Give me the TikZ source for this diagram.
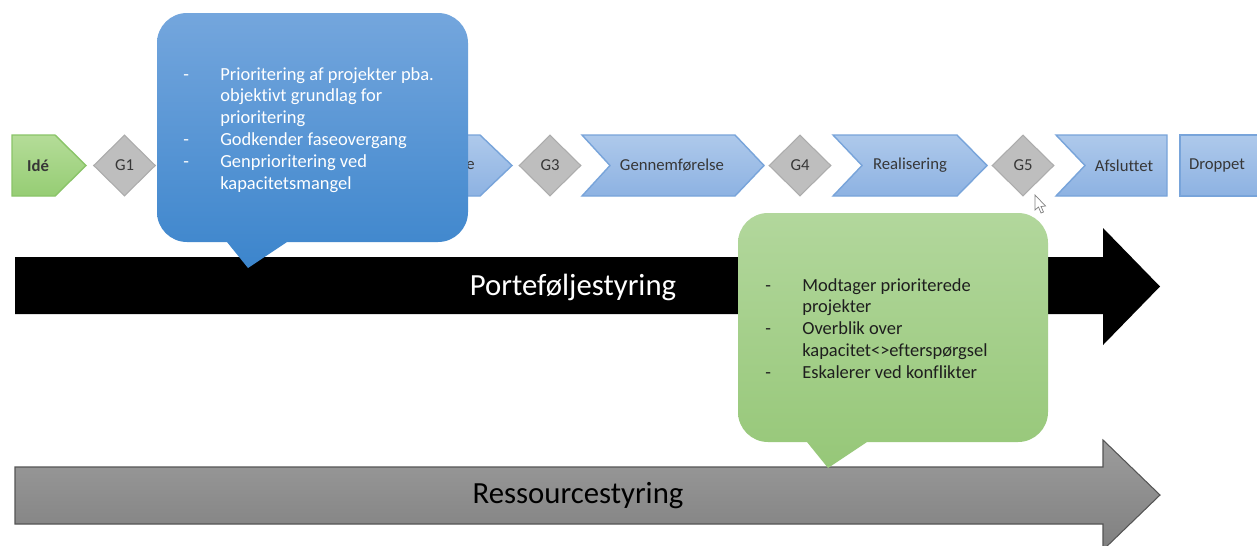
\documentclass[tikz,border=0pt]{standalone}
\usepackage{fontspec}
\setmainfont[Ligatures=NoCommon]{Carlito}
\usetikzlibrary{shapes.geometric}
\definecolor{chevtop}{RGB}{174,201,235}
\definecolor{chevbot}{RGB}{141,178,226}
\definecolor{chevline}{RGB}{120,164,218}
\definecolor{idetop}{RGB}{180,220,152}
\definecolor{idebot}{RGB}{150,205,116}
\definecolor{ideline}{RGB}{138,196,104}
\definecolor{diafill}{RGB}{190,190,190}
\definecolor{dialine}{RGB}{172,172,172}
\definecolor{bluetop}{RGB}{116,166,221}
\definecolor{bluebot}{RGB}{60,133,204}
\definecolor{greentop}{RGB}{178,215,156}
\definecolor{greenbot}{RGB}{150,199,120}
\definecolor{graytop}{RGB}{156,156,156}
\definecolor{graybot}{RGB}{128,128,128}
\definecolor{grayline}{RGB}{85,85,85}
\definecolor{labeltext}{RGB}{55,55,55}
\definecolor{greentext}{RGB}{30,30,30}
\begin{document}
\begin{tikzpicture}[x=0.02cm,y=-0.02cm,
  lbl/.style={font=\fontsize{9.5}{11}\selectfont, text=labeltext, inner sep=0pt},
  chev/.style={top color=chevtop, bottom color=chevbot, draw=chevline, line width=0.8pt},
  idebox/.style={top color=idetop, bottom color=idebot, draw=ideline, line width=0.8pt},
  gate/.style={diamond, fill=diafill, draw=dialine, line width=0.6pt, minimum width=1.24cm, minimum height=1.22cm, inner sep=0pt, font=\fontsize{9.5}{11}\selectfont, text=labeltext},
  bubbletext/.style={inner sep=0pt, anchor=base west, font=\fontsize{10.5}{12.5}\selectfont},
  bigtext/.style={inner sep=0pt, font=\fontsize{17.5}{20}\selectfont}
]
\useasboundingbox (0,0) rectangle (1257,545);
\clip (0,0) rectangle (1257,545);
\fill[white] (0,0) rectangle (1257,545);

% ---- process row ----
\path[idebox] (12,135) -- (55,135) -- (86,165.5) -- (55,196) -- (12,196) -- cycle;
\node[lbl, font=\fontsize{9.5}{11}\selectfont\bfseries] (ide) at (38,165.5) {Idé};
\node[gate] (g1) at (124.5,165.5) {G1};

\path[chev] (300,135) -- (480,135) -- (512,165.5) -- (480,196) -- (300,196) -- cycle;
\node[lbl, anchor=east] (plan) at (475,165.5) {e};
\node[gate] (g3) at (550,165.5) {G3};

\path[chev] (582,135) -- (735,135) -- (764,165.5) -- (735,196) -- (582,196) -- (610,165.5) -- cycle;
\node[lbl] (gen) at (672,165.5) {Gennemførelse};
\node[gate] (g4) at (800,165.5) {G4};

\path[chev] (833,135) -- (957,135) -- (987,165.5) -- (957,196) -- (833,196) -- (862,165.5) -- cycle;
\node[lbl] (real) at (910,165.5) {Realisering};
\node[gate] (g5) at (1023,165.5) {G5};

\path[chev] (1056,135) -- (1167,135) -- (1167,196) -- (1056,196) -- (1085,165.5) -- cycle;
\node[lbl] (afs) at (1124,165.5) {Afsluttet};

\path[chev] (1180,135) -- (1270,135) -- (1270,196) -- (1180,196) -- cycle;
\node[lbl] (drop) at (1217,165.5) {Droppet};

% ---- big arrows ----
\fill[black] (15,257) -- (1103,257) -- (1103,228) -- (1160,286.5) -- (1103,345) -- (1103,314) -- (15,314) -- cycle;
\node[bigtext, text=white] (port) at (573,287) {Porteføljestyring};

\shade[top color=graytop, bottom color=graybot, draw=grayline, line width=0.6pt]
  (15,467) -- (1103,467) -- (1103,440) -- (1160,495) -- (1103,550) -- (1103,524) -- (15,524) -- cycle;
\node[bigtext, text=black] (res) at (578,496) {Ressourcestyring};

% ---- blue callout ----
\shade[top color=bluetop, bottom color=bluebot]
  (227,242) -- (248,268) -- (287,242) -- (438,242)
  arc[start angle=-90, end angle=0, radius=0.6cm] -- (468,43)
  arc[start angle=0, end angle=90, radius=0.6cm] -- (187,13)
  arc[start angle=90, end angle=180, radius=0.6cm] -- (157,212)
  arc[start angle=180, end angle=270, radius=0.6cm] -- cycle;
\node[bubbletext, text=white] (bluetxt) at (183,80) {%
  \begin{tabular}[t]{@{}p{0.74cm}@{}l@{}}
  - & Prioritering af projekter pba.\\
    & objektivt grundlag for\\
    & prioritering\\
  - & Godkender faseovergang\\
  - & Genprioritering ved\\
    & kapacitetsmangel
  \end{tabular}};

% ---- green callout ----
\shade[top color=greentop, bottom color=greenbot]
  (807,442) -- (828,468) -- (867,442) -- (1018,442)
  arc[start angle=-90, end angle=0, radius=0.6cm] -- (1048,243)
  arc[start angle=0, end angle=90, radius=0.6cm] -- (768,213)
  arc[start angle=90, end angle=180, radius=0.6cm] -- (738,412)
  arc[start angle=180, end angle=270, radius=0.6cm] -- cycle;
\node[bubbletext, text=greentext] (greentxt) at (765,291) {%
  \begin{tabular}[t]{@{}p{0.74cm}@{}l@{}}
  - & Modtager prioriterede\\
    & projekter\\
  - & Overblik over\\
    & kapacitet<>efterspørgsel\\
  - & Eskalerer ved konflikter
  \end{tabular}};

% ---- mouse cursor ----
\filldraw[fill=white, draw=gray, line width=0.4pt]
  (1035,195) -- (1035,210) -- (1038.5,207) -- (1041,213) -- (1043.5,212) -- (1041,206.5) -- (1045.5,206) -- cycle;
\end{tikzpicture}
\end{document}
